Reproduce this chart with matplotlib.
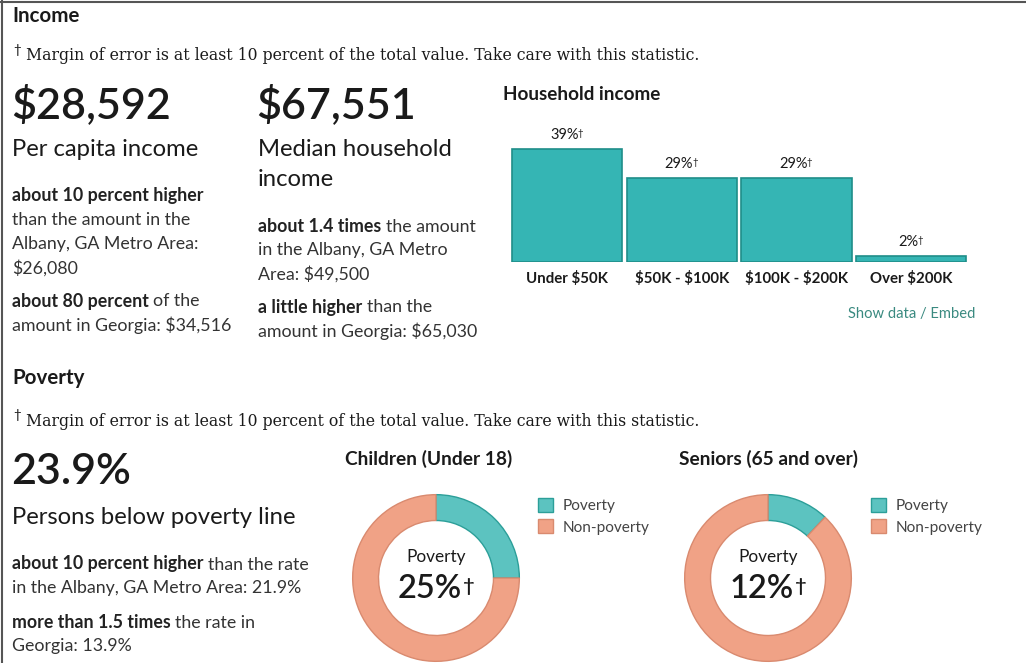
import matplotlib
matplotlib.use("Agg")
import matplotlib.pyplot as plt

plt.rcParams['font.family'] = ['Lato', 'DejaVu Sans']
plt.rcParams['text.parse_math'] = False   # "$" をそのまま表示

# ==== データ ====
bar_cats = ['Under $50K', '$50K - $100K', '$100K - $200K', 'Over $200K']
bar_vals = [39, 29, 29, 2]

child_labels = ['Poverty', 'Non-poverty']
child_vals = [25, 75]
senior_vals = [12, 88]

per_capita = '$28,592'
median_hh = '$67,551'
poverty_rate = '23.9%'

MOE_NOTE = 'Margin of error is at least 10 percent of the total value. Take care with this statistic.'

# ==== 色 ====
DARK = '#1a1a1a'
BODY = '#333333'
TEAL = '#35b5b4'
TEAL_EDGE = '#1f8e89'
POV = '#5cc3c0'
POV_EDGE = '#2c9f99'
NONPOV = '#f0a286'
NONPOV_EDGE = '#d98a6f'
LINK = '#3a8a80'

BODY_FS = 12.8
BIG_FS = 31
SUB_FS = 17.2
BIG_W = 'semibold'

W, H = 1026, 663
fig = plt.figure(figsize=(W / 100, H / 100), dpi=100)
bg = fig.add_axes([0, 0, 1, 1])
bg.set_xlim(0, W)
bg.set_ylim(H, 0)
bg.axis('off')

# 枠線 (上と左だけ)
bg.plot([0, W], [1.5, 1.5], color='#555555', lw=1.5)
bg.plot([2, 2], [0, H], color='#555555', lw=1.5)


def rich(x, y, parts, size=BODY_FS):
    """太字と普通の文字を一行に並べる"""
    prev = None
    for txt, weight in parts:
        color = '#222222' if weight == 'bold' else BODY
        if prev is None:
            prev = bg.text(x, y, txt, fontsize=size, fontweight=weight,
                           color=color, va='center', ha='left')
        else:
            prev = bg.annotate(txt, xy=(1, 0), xycoords=prev,
                               xytext=(size * 0.25, 0), textcoords='offset points',
                               fontsize=size, fontweight=weight, color=color,
                               va='bottom', ha='left')
    return prev


def with_dagger(x, y, txt, size, ha='left', color=DARK, weight='normal'):
    t = bg.text(x, y, txt, fontsize=size, color=color, va='center', ha=ha,
                fontweight=weight)
    bg.annotate('\u2020', xy=(1, 1), xycoords=t, xytext=(0, -size * 0.12),
                textcoords='offset points', fontsize=size * 0.62, color=color,
                va='top', ha='left', fontweight=weight)
    return t


def moe_line(y):
    bg.text(13, y - 6, '\u2020', fontsize=9.5, color=DARK, va='center', ha='left')
    bg.text(26, y, MOE_NOTE, fontsize=11.3, color=DARK, va='center', ha='left',
            family=['DejaVu Serif'])


# ==== Income ====
bg.text(12, 16, 'Income', fontsize=14.8, fontweight='bold', color=DARK, va='center')
moe_line(56)

bg.text(11, 105, per_capita, fontsize=BIG_FS, fontweight=BIG_W, color=DARK, va='center')
bg.text(12, 150, 'Per capita income', fontsize=SUB_FS, color=DARK, va='center')
rich(12, 196, [('about 10 percent higher', 'bold')])
rich(12, 220, [('than the amount in the', 'normal')])
rich(12, 244, [('Albany, GA Metro Area:', 'normal')])
rich(12, 268, [('$26,080', 'normal')])
rich(12, 301, [('about 80 percent', 'bold'), ('of the', 'normal')])
rich(12, 325, [('amount in Georgia: $34,516', 'normal')])

bg.text(256, 105, median_hh, fontsize=BIG_FS, fontweight=BIG_W, color=DARK, va='center')
bg.text(258, 150, 'Median household', fontsize=SUB_FS, color=DARK, va='center')
bg.text(258, 180, 'income', fontsize=SUB_FS, color=DARK, va='center')
rich(258, 226, [('about 1.4 times', 'bold'), ('the amount', 'normal')])
rich(258, 250, [('in the Albany, GA Metro', 'normal')])
rich(258, 274, [('Area: $49,500', 'normal')])
rich(258, 307, [('a little higher', 'bold'), ('than the', 'normal')])
rich(258, 331, [('amount in Georgia: $65,030', 'normal')])

# ==== Household income bar chart ====
bg.text(503, 94, 'Household income', fontsize=13.6, fontweight='bold', color=DARK, va='center')

unit = 114.7
px_per_pct = 2.9
ax_l, ax_r = 567 - 0.5 * unit, 567 + 3.5 * unit
ax_base, ax_top = 262, 262 - 130
bax = fig.add_axes([ax_l / W, 1 - ax_base / H, (ax_r - ax_l) / W, (ax_base - ax_top) / H])
bax.set_xlim(-0.5, 3.5)
bax.set_ylim(0, 130 / px_per_pct)
xs = list(range(len(bar_cats)))
bax.bar(xs, bar_vals, width=0.962, color=TEAL, edgecolor=TEAL_EDGE, linewidth=1.2)
for i, v in zip(xs, bar_vals):
    t = bax.annotate(f'{v}%', xy=(i, v), xytext=(-2, 5), textcoords='offset points',
                     ha='center', va='bottom', fontsize=10.5, color=DARK)
    bax.annotate('\u2020', xy=(1, 1), xycoords=t, xytext=(-0.8, -0.5),
                 textcoords='offset points', fontsize=7, color=DARK,
                 va='top', ha='left')
bax.set_xticks(xs)
bax.set_xticklabels(bar_cats, fontsize=10.8, fontweight='bold', color=DARK)
bax.tick_params(axis='x', length=0, pad=6.5)
bax.set_yticks([])
for s in bax.spines.values():
    s.set_visible(False)

bg.text(975, 314, 'Show data / Embed', fontsize=10.6, color=LINK, va='center', ha='right')

# ==== Poverty ====
bg.text(12, 378, 'Poverty', fontsize=14.8, fontweight='bold', color=DARK, va='center')
moe_line(421)

bg.text(11, 472, poverty_rate, fontsize=BIG_FS, fontweight=BIG_W, color=DARK, va='center')
bg.text(12, 517, 'Persons below poverty line', fontsize=SUB_FS, color=DARK, va='center')
rich(12, 564, [('about 10 percent higher', 'bold'), ('than the rate', 'normal')])
rich(12, 588, [('in the Albany, GA Metro Area: 21.9%', 'normal')])
rich(12, 622, [('more than 1.5 times', 'bold'), ('the rate in', 'normal')])
rich(12, 646, [('Georgia: 13.9%', 'normal')])


def donut(cx, cy, r, vals, title, title_x, legend_x):
    ax = fig.add_axes([(cx - r) / W, 1 - (cy + r) / H, 2 * r / W, 2 * r / H])
    wedges, _ = ax.pie(vals, colors=[POV, NONPOV], startangle=90, counterclock=False,
                       radius=1, wedgeprops=dict(width=0.31, linewidth=1.0))
    for w, ec in zip(wedges, [POV_EDGE, NONPOV_EDGE]):
        w.set_edgecolor(ec)
    ax.set_xlim(-1.02, 1.02)
    ax.set_ylim(-1.02, 1.02)
    ax.set_aspect('equal')
    ax.axis('off')
    bg.text(title_x, 459, title, fontsize=13.8, fontweight='bold', color=DARK, va='center')
    bg.text(cx, cy - 21, 'Poverty', fontsize=12.4, color=DARK, va='center', ha='center')
    with_dagger(cx - 6, cy + 11, f'{vals[0]}%', 23.5, ha='center', weight=BIG_W)
    ax.legend(wedges, child_labels, loc='upper left', frameon=False,
              bbox_to_anchor=(legend_x / W, 1 - 498 / H), bbox_transform=fig.transFigure,
              borderaxespad=0, borderpad=0, handlelength=1.0, handleheight=1.0,
              handletextpad=0.6, labelspacing=0.4, fontsize=11.1, labelcolor='#444444')


donut(436, 578, 85, child_vals, 'Children (Under 18)', 345, 538)
donut(768, 578, 85, senior_vals, 'Seniors (65 and over)', 679, 871)

fig.savefig('out.png', dpi=100)
